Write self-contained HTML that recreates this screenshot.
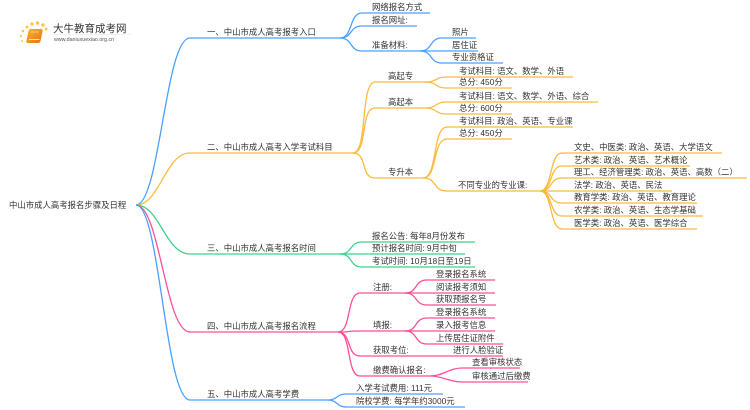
<!DOCTYPE html>
<html><head><meta charset="utf-8"><style>
html,body{margin:0;padding:0;background:#fff;}
svg{display:block;}
text{font-family:"Liberation Sans","Noto Sans CJK SC",sans-serif;font-size:8.4px;fill:#333;}
.b{fill:none;stroke:#4aa0ff;stroke-width:1.3;}
.o{fill:none;stroke:#fbbb3e;stroke-width:1.3;}
.g{fill:none;stroke:#3fd28e;stroke-width:1.3;}
.p{fill:none;stroke:#ff4f95;stroke-width:1.3;}
</style></head><body>
<svg width="750" height="410" viewBox="0 0 750 410" xmlns="http://www.w3.org/2000/svg">
<defs><linearGradient id="bk" x1="0" y1="0" x2="1" y2="1"><stop offset="0" stop-color="#fbb52a"/><stop offset="1" stop-color="#e8700f"/></linearGradient></defs>
<!-- logo -->
<g>
<circle cx="22" cy="41" r="1" fill="#f9c84a"/>
<circle cx="21" cy="36" r="1.1" fill="#f9c84a"/>
<circle cx="23" cy="31" r="1.3" fill="#f9c84a"/>
<circle cx="27" cy="27" r="1.5" fill="#f9c84a"/>
<circle cx="32" cy="24" r="1.7" fill="#f9c84a"/>
<circle cx="37.5" cy="23" r="1.8" fill="#f9c84a"/>
<circle cx="43" cy="25" r="1.8" fill="#f9c84a"/>
<circle cx="46" cy="29" r="1.5" fill="#f9c84a"/>
<path d="M30,29 L41,29 Q43,29 42.6,31 L40.5,41 Q40,43 38,43 L28,43 Q26,43 26.4,41 L28.5,31 Q29,29 30,29 Z" fill="url(#bk)"/>
<path d="M29,39.5 L39.5,39.5" stroke="#fff" stroke-width="0.8"/>
<path d="M31,32 L39,32" stroke="#fde3b0" stroke-width="0.6"/>
<text x="53" y="32" style="font-size:10.5px;fill:#333">大牛教育成考网</text>
<line x1="52" y1="34.5" x2="132" y2="34.5" stroke="#e6e6e6" stroke-width="0.6"/>
<text x="54" y="41" style="font-size:5.3px;fill:#555">www.daniuxuexiao.org.cn</text>
</g>

<!-- root -->
<text x="9" y="208">中山市成人高考报名步骤及日程</text>

<!-- branch 1 -->
<path class="b" d="M136,205 C160,205 165,38 190,38 L340,38"/>
<text x="207" y="35">一、中山市成人高考报考入口</text>
<path class="b" d="M340,38 C353,38 349,13 362,13 L430,13"/>
<text x="372" y="10">网络报名方式</text>
<path class="b" d="M340,38 C353,38 349,26 362,26 L417,26"/>
<text x="372" y="23">报名网址:</text>
<path class="b" d="M340,38 C353,38 349,51 362,51 L420,51"/>
<text x="372" y="48">准备材料:</text>
<path class="b" d="M420,51 C433,51 429,38 442,38 L476,38"/>
<text x="452" y="35">照片</text>
<path class="b" d="M420,51 C433,51 429,51 442,51 L478,51"/>
<text x="452" y="48">居住证</text>
<path class="b" d="M420,51 C433,51 429,63 442,63 L503,63"/>
<text x="452" y="60">专业资格证</text>

<!-- branch 2 -->
<path class="o" d="M136,205 C160,205 165,153 190,153 L353,153"/>
<text x="207" y="150">二、中山市成人高考入学考试科目</text>
<path class="o" d="M353,153 C368,153 360,82 375,82 L425,82"/>
<text x="388" y="79">高起专</text>
<path class="o" d="M353,153 C368,153 360,108 375,108 L425,108"/>
<text x="388" y="105">高起本</text>
<path class="o" d="M353,153 C368,153 360,178 375,178 L423,178"/>
<text x="388" y="175">专升本</text>

<path class="o" d="M425,82 C438,82 434,77 447,77 L573,77"/>
<text x="459" y="74">考试科目: 语文、数学、外语</text>
<path class="o" d="M425,82 C438,82 434,88 447,88 L512,88"/>
<text x="459" y="85">总分: 450分</text>
<path class="o" d="M425,108 C438,108 434,102 447,102 L598,102"/>
<text x="459" y="99">考试科目: 语文、数学、外语、综合</text>
<path class="o" d="M425,108 C438,108 434,114 447,114 L512,114"/>
<text x="459" y="111">总分: 600分</text>
<path class="o" d="M423,178 C438,178 432,127 447,127 L573,127"/>
<text x="459" y="124">考试科目: 政治、英语、专业课</text>
<path class="o" d="M423,178 C438,178 432,139 447,139 L512,139"/>
<text x="459" y="136">总分: 450分</text>
<path class="o" d="M423,178 C438,178 432,191 447,191 L540,191"/>
<text x="458" y="188">不同专业的专业课:</text>

<path class="o" d="M540,191 C553,191 549,153 562,153 L722,153"/>
<text x="574" y="150">文史、中医类: 政治、英语、大学语文</text>
<path class="o" d="M540,191 C553,191 549,166 562,166 L690,166"/>
<text x="574" y="163">艺术类: 政治、英语、艺术概论</text>
<path class="o" d="M540,191 C553,191 549,178 562,178 L747,178"/>
<text x="574" y="175">理工、经济管理类: 政治、英语、高数（二）</text>
<path class="o" d="M540,191 C553,191 549,191 562,191 L672,191"/>
<text x="574" y="188">法学: 政治、英语、民法</text>
<path class="o" d="M540,191 C553,191 549,203 562,203 L697,203"/>
<text x="574" y="200">教育学类: 政治、英语、教育理论</text>
<path class="o" d="M540,191 C553,191 549,216 562,216 L703,216"/>
<text x="574" y="213">农学类: 政治、英语、生态学基础</text>
<path class="o" d="M540,191 C553,191 549,229 562,229 L697,229"/>
<text x="574" y="226">医学类: 政治、英语、医学综合</text>

<!-- branch 3 -->
<path class="g" d="M136,205 C160,205 165,254 190,254 L340,254"/>
<text x="207" y="251">三、中山市成人高考报名时间</text>
<path class="g" d="M340,254 C353,254 349,242 362,242 L475,242"/>
<text x="372" y="239">报名公告: 每年8月份发布</text>
<path class="g" d="M340,254 C353,254 349,254 362,254 L465,254"/>
<text x="372" y="251">预计报名时间: 9月中旬</text>
<path class="g" d="M340,254 C353,254 349,267 362,267 L475,267"/>
<text x="372" y="264">考试时间: 10月18日至19日</text>

<!-- branch 4 -->
<path class="p" d="M136,205 C160,205 165,332 190,332 L338,332"/>
<text x="207" y="329">四、中山市成人高考报名流程</text>
<path class="p" d="M338,332 C352,332 346,293 360,293 L405,293"/>
<text x="373" y="290">注册:</text>
<path class="p" d="M338,332 C352,332 346,331 360,331 L405,331"/>
<text x="373" y="328">填报:</text>
<path class="p" d="M338,332 C352,332 346,356 360,356 L503,356"/>
<text x="373" y="353">获取考位:</text>
<text x="453" y="353">进行人脸验证</text>
<path class="p" d="M338,332 C352,332 346,376 360,376 L430,376"/>
<text x="373" y="373">缴费确认报名:</text>

<path class="p" d="M405,293 C418,293 414,280 427,280 L495,280"/>
<text x="436" y="277">登录报名系统</text>
<path class="p" d="M405,293 C418,293 414,293 427,293 L495,293"/>
<text x="436" y="290">阅读报考须知</text>
<path class="p" d="M405,293 C418,293 414,305 427,305 L496,305"/>
<text x="436" y="302">获取预报名号</text>
<path class="p" d="M405,331 C418,331 414,318 427,318 L495,318"/>
<text x="436" y="315">登录报名系统</text>
<path class="p" d="M405,331 C418,331 414,331 427,331 L495,331"/>
<text x="436" y="328">录入报考信息</text>
<path class="p" d="M405,331 C418,331 414,344 427,344 L503,344"/>
<text x="436" y="341">上传居住证附件</text>
<path class="p" d="M430,376 C443,376 449,368 462,368 L520,368"/>
<text x="472" y="365">查看审核状态</text>
<path class="p" d="M430,376 C443,376 449,382 462,382 L528,382"/>
<text x="472" y="379">审核通过后缴费</text>

<!-- branch 5 -->
<path class="b" d="M136,205 C160,205 165,400 190,400 L327,400"/>
<text x="207" y="397">五、中山市成人高考学费</text>
<path class="b" d="M327,400 C339,400 335,394 347,394 L443,394"/>
<text x="356" y="391">入学考试费用: 111元</text>
<path class="b" d="M327,400 C339,400 335,407 347,407 L465,407"/>
<text x="356" y="404">院校学费: 每学年约3000元</text>
</svg>
</body></html>
